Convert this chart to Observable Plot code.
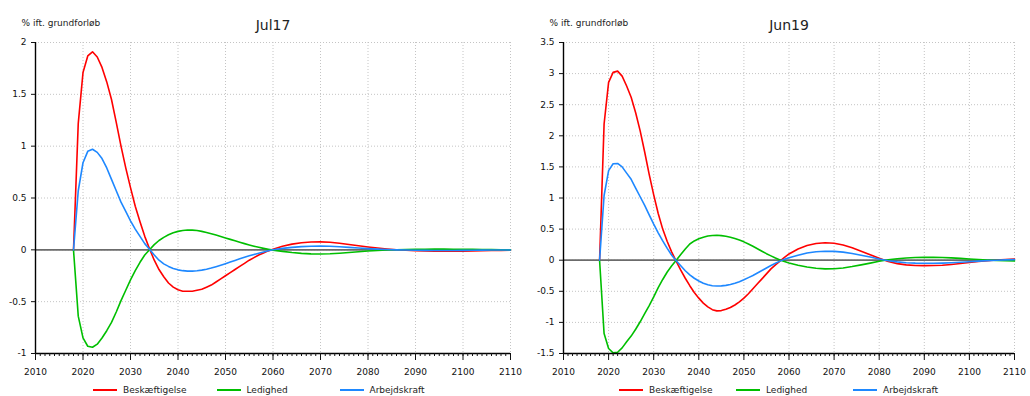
<!DOCTYPE html>
<html><head><meta charset="utf-8">
<script src="https://cdn.jsdelivr.net/npm/d3@7"></script>
<script src="https://cdn.jsdelivr.net/npm/@observablehq/plot@0.6"></script>
<style>
body{margin:0;background:#fff;font-family:"DejaVu Sans",Verdana,sans-serif;}
#wrap{display:flex;width:1030px;height:396px;overflow:hidden;background:#fff;}
.panel{position:relative;width:515px;height:396px;}
.panel svg{position:absolute;left:0;top:0;}
.legend{position:absolute;top:384px;left:0;width:515px;height:12px;font-size:9px;color:#222;}
.item{position:absolute;top:0;height:12px;display:flex;align-items:center;white-space:nowrap;}
.swatch{width:24px;height:2px;margin-right:6px;}
</style></head><body><div id="wrap"></div>
<script>
// ---- data ----
const seriesNames = ["Beskæftigelse", "Ledighed", "Arbejdskraft"];
const seriesColors = ["#ff0000", "#00bf00", "#1e88ff"];
const yLabel = "% ift. grundforløb";
const titles = ["Jul17", "Jun19"];
const years = [...d3.range(2018, 2061), ...d3.range(2062, 2111, 2)];
const xMajorTicks = d3.range(2010, 2111, 10);
const xMinorTicks = d3.range(2010, 2111, 1);
const yTicksJul17 = [-1, -0.5, 0, 0.5, 1, 1.5, 2];
const yTicksJun19 = [-1.5, -1, -0.5, 0, 0.5, 1, 1.5, 2, 2.5, 3, 3.5];

const jul17Beskaeftigelse = [
  0, 1.22, 1.71, 1.87, 1.91, 1.86, 1.76, 1.62, 1.45, 1.23,
  1.00, 0.79, 0.60, 0.42, 0.27, 0.13, 0.01, -0.10, -0.19, -0.26,
  -0.32, -0.36, -0.385, -0.40, -0.40, -0.40, -0.39, -0.38, -0.36, -0.34,
  -0.31, -0.28, -0.25, -0.22, -0.19, -0.16, -0.13, -0.10, -0.075, -0.05,
  -0.03, -0.01, 0.005,
  0.035, 0.055, 0.068, 0.075, 0.077, 0.073, 0.064, 0.052, 0.04, 0.028, 0.017, 0.008, 0.001,
  -0.004, -0.008, -0.011, -0.013, -0.014, -0.014, -0.013, -0.011, -0.009, -0.007, -0.005, -0.003];
const jul17Ledighed = [
  0, -0.64, -0.85, -0.93, -0.94, -0.91, -0.85, -0.78, -0.70, -0.60,
  -0.49, -0.39, -0.29, -0.20, -0.12, -0.05, 0.0, 0.05, 0.09, 0.12,
  0.145, 0.165, 0.178, 0.187, 0.191, 0.19, 0.186, 0.178, 0.168, 0.156,
  0.143, 0.129, 0.115, 0.101, 0.087, 0.073, 0.06, 0.047, 0.035, 0.024,
  0.014, 0.005, -0.003,
  -0.015, -0.026, -0.034, -0.039, -0.04, -0.038, -0.033, -0.026, -0.019, -0.012, -0.006, -0.002, 0.001,
  0.003, 0.005, 0.006, 0.007, 0.007, 0.006, 0.005, 0.004, 0.003, 0.002, 0.001, 0.0];
const jul17Arbejdskraft = [
  0, 0.57, 0.84, 0.95, 0.97, 0.94, 0.88, 0.79, 0.68, 0.57,
  0.46, 0.37, 0.28, 0.20, 0.13, 0.06, 0.005, -0.05, -0.10, -0.135,
  -0.16, -0.18, -0.193, -0.201, -0.205, -0.205, -0.202, -0.196, -0.187, -0.176,
  -0.163, -0.149, -0.134, -0.118, -0.102, -0.087, -0.072, -0.058, -0.045, -0.032,
  -0.02, -0.009, 0.001,
  0.014, 0.024, 0.031, 0.035, 0.036, 0.034, 0.03, 0.024, 0.018, 0.012, 0.007, 0.003, 0.0,
  -0.002, -0.004, -0.005, -0.006, -0.006, -0.006, -0.005, -0.004, -0.003, -0.002, -0.001, -0.001];

const jun19Beskaeftigelse = [
  0, 2.19, 2.86, 3.02, 3.04, 2.96, 2.80, 2.62, 2.37, 2.08,
  1.74, 1.38, 1.05, 0.75, 0.50, 0.30, 0.13, -0.02, -0.16, -0.29,
  -0.41, -0.52, -0.61, -0.69, -0.75, -0.795, -0.815, -0.81, -0.79, -0.76,
  -0.72, -0.67, -0.61, -0.54, -0.46, -0.38, -0.30, -0.22, -0.14, -0.075,
  -0.015, 0.045, 0.10,
  0.18, 0.235, 0.268, 0.28, 0.272, 0.245, 0.2, 0.145, 0.088, 0.033,
  -0.02, -0.055, -0.075, -0.085, -0.088, -0.086, -0.08, -0.068, -0.053, -0.037, -0.022, -0.009, 0.002, 0.012, 0.02];
const jun19Ledighed = [
  0, -1.18, -1.42, -1.49, -1.48, -1.41, -1.31, -1.22, -1.11, -0.99,
  -0.86, -0.73, -0.59, -0.44, -0.31, -0.19, -0.09, 0.0, 0.09, 0.18,
  0.26, 0.31, 0.345, 0.37, 0.388, 0.398, 0.40, 0.395, 0.385, 0.37,
  0.35, 0.325, 0.295, 0.26, 0.225, 0.185, 0.145, 0.105, 0.07, 0.035,
  0.005, -0.02, -0.045,
  -0.08, -0.11, -0.13, -0.14, -0.137, -0.125, -0.102, -0.075, -0.047, -0.018,
  0.006, 0.024, 0.036, 0.043, 0.046, 0.046, 0.043, 0.037, 0.029, 0.02, 0.012, 0.004, -0.003, -0.008, -0.011];
const jun19Arbejdskraft = [
  0, 1.04, 1.44, 1.55, 1.555, 1.50, 1.40, 1.30, 1.16, 1.02,
  0.88, 0.73, 0.58, 0.44, 0.31, 0.19, 0.08, -0.01, -0.09, -0.17,
  -0.235, -0.29, -0.335, -0.37, -0.395, -0.41, -0.415, -0.413, -0.405, -0.39,
  -0.37, -0.345, -0.315, -0.28, -0.245, -0.205, -0.165, -0.125, -0.085, -0.05,
  -0.015, 0.015, 0.04,
  0.08, 0.115, 0.137, 0.145, 0.142, 0.13, 0.108, 0.08, 0.05, 0.018,
  -0.008, -0.027, -0.04, -0.047, -0.05, -0.05, -0.047, -0.041, -0.033, -0.024, -0.015, -0.007, 0.0, 0.006, 0.01];

// ---- layout (not data) ----
const layouts = [
  {title: titles[0], values: [jul17Beskaeftigelse, jul17Ledighed, jul17Arbejdskraft], yDomain: [-1, 2], yTicks: yTicksJul17, ml: 35, mr: 5, legendX: [93, 216.5, 339.5]},
  {title: titles[1], values: [jun19Beskaeftigelse, jun19Ledighed, jun19Arbejdskraft], yDomain: [-1.5, 3.5], yTicks: yTicksJun19, ml: 48, mr: 16, legendX: [104, 221, 338]}
];

const wrap = document.getElementById("wrap");
layouts.forEach((L, idx) => {
  const rows = seriesNames.flatMap((name, k) => years.map((yr, i) => ({year: yr, value: L.values[k][i], name})));
  const grid = {stroke: "#c4c4c4", strokeOpacity: 1, strokeDasharray: "1,2", strokeWidth: 1};
  const chart = Plot.plot({
    width: 515, height: 378,
    marginTop: 42, marginBottom: 25, marginLeft: L.ml, marginRight: L.mr,
    style: {fontFamily: "DejaVu Sans, Verdana, sans-serif", fontSize: "9px", background: "transparent", color: "#111", overflow: "visible"},
    x: {domain: [2010, 2110], label: null},
    y: {domain: L.yDomain, label: null},
    color: {domain: seriesNames, range: seriesColors},
    marks: [
      Plot.gridX(xMajorTicks.filter(d => d > 2010), grid),
      Plot.gridY(L.yTicks.filter(d => d > L.yDomain[0]), grid),
      Plot.ruleY([0], {stroke: "#6b6b6b", strokeWidth: 1.8}),
      Plot.line(rows, {x: "year", y: "value", z: "name", stroke: "name", strokeWidth: 1.6}),
      Plot.ruleX([2010], {stroke: "#000", strokeWidth: 1.4}),
      Plot.ruleY([L.yDomain[0]], {stroke: "#000", strokeWidth: 1.4}),
      Plot.axisX(xMinorTicks, {tickSize: 3, tickFormat: () => ""}),
      Plot.axisX(xMajorTicks, {tickSize: 7, tickPadding: 8, tickFormat: d => String(d)}),
      Plot.axisY(L.yTicks, {tickSize: 4, tickPadding: 5, tickFormat: d => String(d)}),
      Plot.text([L.title], {text: d => d, frameAnchor: "top", dy: -22, fontSize: 14, fill: "#222"}),
      Plot.text([yLabel], {text: d => d, frameAnchor: "top-left", textAnchor: "start", dx: -14, dy: -22.5, fill: "#222"})
    ]
  });
  const panel = document.createElement("div");
  panel.className = "panel";
  panel.style.zIndex = String(2 - idx);
  panel.appendChild(chart);
  const legend = document.createElement("div");
  legend.className = "legend";
  seriesNames.forEach((name, k) => {
    const item = document.createElement("div");
    item.className = "item";
    item.style.left = L.legendX[k] + "px";
    const sw = document.createElement("span");
    sw.className = "swatch";
    sw.style.background = seriesColors[k];
    const tx = document.createElement("span");
    tx.textContent = name;
    item.appendChild(sw); item.appendChild(tx);
    legend.appendChild(item);
  });
  panel.appendChild(legend);
  wrap.appendChild(panel);
});
</script></body></html>
